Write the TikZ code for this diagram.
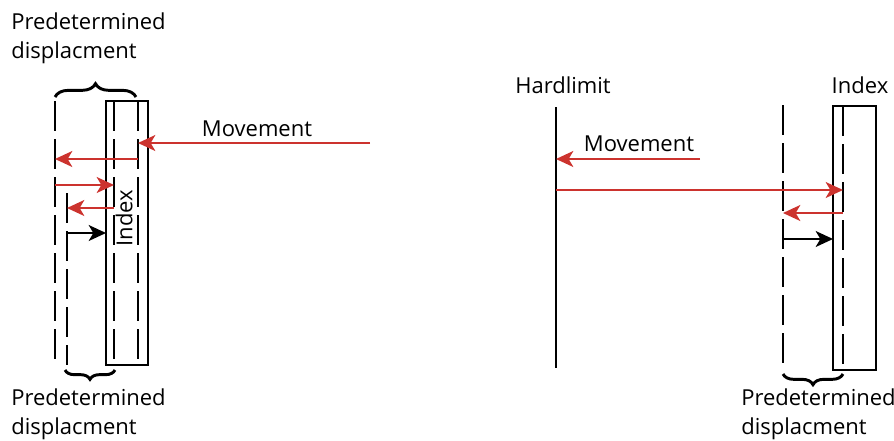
\documentclass[tikz,border=0pt]{standalone}
\usepackage{fontspec}
\setmainfont{Open Sans}
\usetikzlibrary{arrows.meta,decorations.pathreplacing}
\definecolor{arrowred}{RGB}{204,51,46}
\tikzset{
  wall/.style={line width=1.5pt},
  dashwall/.style={line width=1.5pt, dash pattern=on 22.5pt off 6pt},
  box/.style={line width=1.2pt},
  move/.style={line width=1.3pt, arrowred, -{Stealth[length=13pt,width=12pt,inset=3.5pt]}},
  push/.style={line width=1.3pt, black, -{Stealth[length=13pt,width=12pt,inset=3.5pt]}},
  lbl/.style={font=\fontsize{16.5}{21.5}\selectfont, inner sep=0pt},
  curly/.style={line width=2.2pt, decorate, decoration={brace, amplitude=#1}}
}
\begin{document}
\begin{tikzpicture}[x=0.75pt, y=-0.75pt]
\useasboundingbox (0,0) rectangle (894,440);

% ---------- left: index inside the displacement window ----------
\node[lbl, anchor=north west, align=left] (topnote) at (11,13) {Predetermined\\displacment};
\draw[curly=10pt] (55,97) -- (136,97);

\draw[box] (106,101) rectangle (148,365);
\coordinate (li1t) at (114,101); \coordinate (li1b) at (114,365);
\coordinate (li2t) at (138,101); \coordinate (li2b) at (138,365);
\coordinate (lo1t) at (55,101);  \coordinate (lo1b) at (55,365);
\coordinate (lo2t) at (67,193);  \coordinate (lo2b) at (67,365);
\draw[dashwall] (li1t) -- (li1b);
\draw[dashwall] (li2t) -- (li2b);
\draw[dashwall] (lo1t) -- (lo1b);
\draw[dashwall] (lo2t) -- (lo2b);

\node[lbl, rotate=90] (lindex) at (124,218) {Index};
\node[lbl] (lmove) at (257,129) {Movement};

\coordinate (a1s) at (370,143); \coordinate (a1e) at (138,143);
\coordinate (a2s) at (138,159); \coordinate (a2e) at (55,159);
\coordinate (a3s) at (55,185);  \coordinate (a3e) at (114,185);
\coordinate (a4s) at (114,208); \coordinate (a4e) at (67,208);
\coordinate (a5s) at (67,233);  \coordinate (a5e) at (106,233);
\draw[move] (a1s) -- (a1e);
\draw[move] (a2s) -- (a2e);
\draw[move] (a3s) -- (a3e);
\draw[move] (a4s) -- (a4e);
\draw[push] (a5s) -- (a5e);

\draw[curly=7pt] (115,370) -- (65,370);
\node[lbl, anchor=north west, align=left] (botnoteL) at (11,389) {Predetermined\\displacment};

% ---------- right: approach from the hard limit ----------
\node[lbl] (hard) at (563,85) {Hardlimit};
\node[lbl] (rindex) at (860,85) {Index};
\node[lbl] (rmove) at (639,144) {Movement};

\coordinate (hlt) at (556,107); \coordinate (hlb) at (556,368);
\draw[wall] (hlt) -- (hlb);
\coordinate (rdt) at (783,105); \coordinate (rdb) at (783,368);
\draw[dashwall] (rdt) -- (rdb);
\draw[box] (833,106) rectangle (876,370);
\coordinate (rit) at (843,106); \coordinate (rib) at (843,370);
\draw[dashwall] (rit) -- (rib);

\coordinate (b1s) at (700,159); \coordinate (b1e) at (556,159);
\coordinate (b2s) at (556,190); \coordinate (b2e) at (843,190);
\coordinate (b3s) at (843,213); \coordinate (b3e) at (783,213);
\coordinate (b4s) at (783,239); \coordinate (b4e) at (833,239);
\draw[move] (b1s) -- (b1e);
\draw[move] (b2s) -- (b2e);
\draw[move] (b3s) -- (b3e);
\draw[push] (b4s) -- (b4e);

\draw[curly=8pt] (843,374) -- (783,374);
\node[lbl, anchor=north west, align=left] (botnoteR) at (741,389) {Predetermined\\displacment};
\end{tikzpicture}
\end{document}
